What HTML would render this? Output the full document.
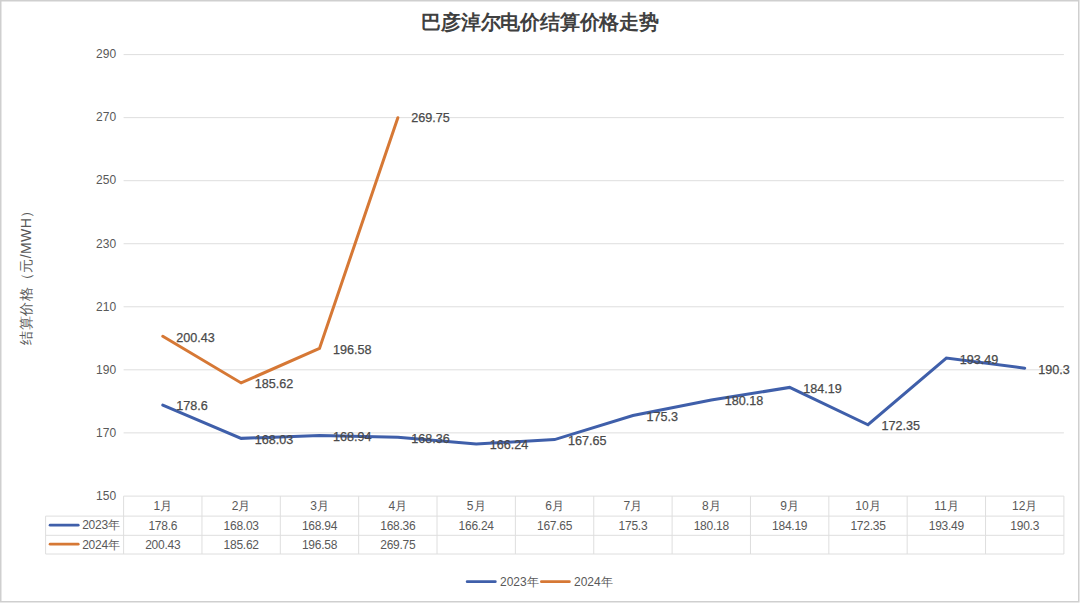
<!DOCTYPE html><html><head><meta charset="utf-8"><style>html,body{margin:0;padding:0;background:#fff;}svg{display:block;}text{font-family:"Liberation Sans",sans-serif;}</style></head><body>
<svg width="1080" height="603" viewBox="0 0 1080 603">
<rect x="0" y="0" width="1080" height="603" fill="#fff"/>
<rect x="0.75" y="0.75" width="1078" height="601" fill="none" stroke="#CFCFCF" stroke-width="1.5"/>
<text x="540" y="29.3" text-anchor="middle" font-size="19.5" letter-spacing="-0.2" font-weight="bold" fill="#404040" style="font-family:'Liberation Serif',serif">巴彦淖尔电价结算价格走势</text>
<text x="116.1" y="499.70" text-anchor="end" font-size="12" fill="#595959">150</text>
<line x1="123.6" y1="432.86" x2="1063.9" y2="432.86" stroke="#DEDEDE" stroke-width="1"/>
<text x="116.1" y="436.66" text-anchor="end" font-size="12" fill="#595959">170</text>
<line x1="123.6" y1="369.81" x2="1063.9" y2="369.81" stroke="#DEDEDE" stroke-width="1"/>
<text x="116.1" y="373.61" text-anchor="end" font-size="12" fill="#595959">190</text>
<line x1="123.6" y1="306.77" x2="1063.9" y2="306.77" stroke="#DEDEDE" stroke-width="1"/>
<text x="116.1" y="310.57" text-anchor="end" font-size="12" fill="#595959">210</text>
<line x1="123.6" y1="243.73" x2="1063.9" y2="243.73" stroke="#DEDEDE" stroke-width="1"/>
<text x="116.1" y="247.53" text-anchor="end" font-size="12" fill="#595959">230</text>
<line x1="123.6" y1="180.69" x2="1063.9" y2="180.69" stroke="#DEDEDE" stroke-width="1"/>
<text x="116.1" y="184.49" text-anchor="end" font-size="12" fill="#595959">250</text>
<line x1="123.6" y1="117.64" x2="1063.9" y2="117.64" stroke="#DEDEDE" stroke-width="1"/>
<text x="116.1" y="121.44" text-anchor="end" font-size="12" fill="#595959">270</text>
<line x1="123.6" y1="54.60" x2="1063.9" y2="54.60" stroke="#DEDEDE" stroke-width="1"/>
<text x="116.1" y="58.40" text-anchor="end" font-size="12" fill="#595959">290</text>
<text x="0" y="0" transform="translate(31,274) rotate(-90)" text-anchor="middle" font-size="14" letter-spacing="0.4" fill="#595959">结算价格（元/MWH）</text>
<g stroke="#DEDEDE" stroke-width="1" fill="none">
<line x1="123.6" y1="496.1" x2="1063.9" y2="496.1"/>
<line x1="45.6" y1="516.1" x2="1063.9" y2="516.1"/>
<line x1="45.6" y1="535.3" x2="1063.9" y2="535.3"/>
<line x1="45.6" y1="554.0" x2="1063.9" y2="554.0"/>
<line x1="45.6" y1="516.1" x2="45.6" y2="554.0"/>
<line x1="123.60" y1="496.1" x2="123.60" y2="554.0"/>
<line x1="201.96" y1="496.1" x2="201.96" y2="554.0"/>
<line x1="280.32" y1="496.1" x2="280.32" y2="554.0"/>
<line x1="358.67" y1="496.1" x2="358.67" y2="554.0"/>
<line x1="437.03" y1="496.1" x2="437.03" y2="554.0"/>
<line x1="515.39" y1="496.1" x2="515.39" y2="554.0"/>
<line x1="593.75" y1="496.1" x2="593.75" y2="554.0"/>
<line x1="672.11" y1="496.1" x2="672.11" y2="554.0"/>
<line x1="750.47" y1="496.1" x2="750.47" y2="554.0"/>
<line x1="828.83" y1="496.1" x2="828.83" y2="554.0"/>
<line x1="907.18" y1="496.1" x2="907.18" y2="554.0"/>
<line x1="985.54" y1="496.1" x2="985.54" y2="554.0"/>
<line x1="1063.90" y1="496.1" x2="1063.90" y2="554.0"/>
</g>
<text x="162.78" y="510.10" text-anchor="middle" font-size="12" fill="#595959">1月</text>
<text x="162.78" y="529.70" text-anchor="middle" font-size="12" letter-spacing="-0.25" fill="#595959">178.6</text>
<text x="162.78" y="548.65" text-anchor="middle" font-size="12" letter-spacing="-0.25" fill="#595959">200.43</text>
<text x="241.14" y="510.10" text-anchor="middle" font-size="12" fill="#595959">2月</text>
<text x="241.14" y="529.70" text-anchor="middle" font-size="12" letter-spacing="-0.25" fill="#595959">168.03</text>
<text x="241.14" y="548.65" text-anchor="middle" font-size="12" letter-spacing="-0.25" fill="#595959">185.62</text>
<text x="319.50" y="510.10" text-anchor="middle" font-size="12" fill="#595959">3月</text>
<text x="319.50" y="529.70" text-anchor="middle" font-size="12" letter-spacing="-0.25" fill="#595959">168.94</text>
<text x="319.50" y="548.65" text-anchor="middle" font-size="12" letter-spacing="-0.25" fill="#595959">196.58</text>
<text x="397.85" y="510.10" text-anchor="middle" font-size="12" fill="#595959">4月</text>
<text x="397.85" y="529.70" text-anchor="middle" font-size="12" letter-spacing="-0.25" fill="#595959">168.36</text>
<text x="397.85" y="548.65" text-anchor="middle" font-size="12" letter-spacing="-0.25" fill="#595959">269.75</text>
<text x="476.21" y="510.10" text-anchor="middle" font-size="12" fill="#595959">5月</text>
<text x="476.21" y="529.70" text-anchor="middle" font-size="12" letter-spacing="-0.25" fill="#595959">166.24</text>
<text x="554.57" y="510.10" text-anchor="middle" font-size="12" fill="#595959">6月</text>
<text x="554.57" y="529.70" text-anchor="middle" font-size="12" letter-spacing="-0.25" fill="#595959">167.65</text>
<text x="632.93" y="510.10" text-anchor="middle" font-size="12" fill="#595959">7月</text>
<text x="632.93" y="529.70" text-anchor="middle" font-size="12" letter-spacing="-0.25" fill="#595959">175.3</text>
<text x="711.29" y="510.10" text-anchor="middle" font-size="12" fill="#595959">8月</text>
<text x="711.29" y="529.70" text-anchor="middle" font-size="12" letter-spacing="-0.25" fill="#595959">180.18</text>
<text x="789.65" y="510.10" text-anchor="middle" font-size="12" fill="#595959">9月</text>
<text x="789.65" y="529.70" text-anchor="middle" font-size="12" letter-spacing="-0.25" fill="#595959">184.19</text>
<text x="868.00" y="510.10" text-anchor="middle" font-size="12" fill="#595959">10月</text>
<text x="868.00" y="529.70" text-anchor="middle" font-size="12" letter-spacing="-0.25" fill="#595959">172.35</text>
<text x="946.36" y="510.10" text-anchor="middle" font-size="12" fill="#595959">11月</text>
<text x="946.36" y="529.70" text-anchor="middle" font-size="12" letter-spacing="-0.25" fill="#595959">193.49</text>
<text x="1024.72" y="510.10" text-anchor="middle" font-size="12" fill="#595959">12月</text>
<text x="1024.72" y="529.70" text-anchor="middle" font-size="12" letter-spacing="-0.25" fill="#595959">190.3</text>
<line x1="50.1" y1="525.2" x2="78.2" y2="525.2" stroke="#3F5FAA" stroke-width="2.8" stroke-linecap="round"/>
<line x1="50.1" y1="544.2" x2="78.2" y2="544.2" stroke="#D67835" stroke-width="2.8" stroke-linecap="round"/>
<text x="119.6" y="529.40" text-anchor="end" font-size="12" letter-spacing="-0.25" fill="#595959">2023年</text>
<text x="119.6" y="548.50" text-anchor="end" font-size="12" letter-spacing="-0.25" fill="#595959">2024年</text>
<polyline points="162.78,405.05 241.14,438.37 319.50,435.50 397.85,437.33 476.21,444.01 554.57,439.56 632.93,415.45 711.29,400.07 789.65,387.43 868.00,424.75 946.36,358.11 1024.72,368.17" fill="none" stroke="#3F5FAA" stroke-width="3" stroke-linejoin="miter" stroke-linecap="round"/>
<polyline points="162.78,336.24 241.14,382.92 319.50,348.37 397.85,117.73" fill="none" stroke="#D67835" stroke-width="3" stroke-linejoin="miter" stroke-linecap="round"/>
<text x="176.28" y="410.45" font-size="12.6" fill="#4A4A4A" stroke="#4A4A4A" stroke-width="0.25">178.6</text>
<text x="254.64" y="443.77" font-size="12.6" fill="#4A4A4A" stroke="#4A4A4A" stroke-width="0.25">168.03</text>
<text x="333.00" y="440.90" font-size="12.6" fill="#4A4A4A" stroke="#4A4A4A" stroke-width="0.25">168.94</text>
<text x="411.35" y="442.73" font-size="12.6" fill="#4A4A4A" stroke="#4A4A4A" stroke-width="0.25">168.36</text>
<text x="489.71" y="449.41" font-size="12.6" fill="#4A4A4A" stroke="#4A4A4A" stroke-width="0.25">166.24</text>
<text x="568.07" y="444.96" font-size="12.6" fill="#4A4A4A" stroke="#4A4A4A" stroke-width="0.25">167.65</text>
<text x="646.43" y="420.85" font-size="12.6" fill="#4A4A4A" stroke="#4A4A4A" stroke-width="0.25">175.3</text>
<text x="724.79" y="405.47" font-size="12.6" fill="#4A4A4A" stroke="#4A4A4A" stroke-width="0.25">180.18</text>
<text x="803.15" y="392.83" font-size="12.6" fill="#4A4A4A" stroke="#4A4A4A" stroke-width="0.25">184.19</text>
<text x="881.50" y="430.15" font-size="12.6" fill="#4A4A4A" stroke="#4A4A4A" stroke-width="0.25">172.35</text>
<text x="959.86" y="363.51" font-size="12.6" fill="#4A4A4A" stroke="#4A4A4A" stroke-width="0.25">193.49</text>
<text x="1038.22" y="373.57" font-size="12.6" fill="#4A4A4A" stroke="#4A4A4A" stroke-width="0.25">190.3</text>
<text x="176.28" y="341.64" font-size="12.6" fill="#4A4A4A" stroke="#4A4A4A" stroke-width="0.25">200.43</text>
<text x="254.64" y="388.32" font-size="12.6" fill="#4A4A4A" stroke="#4A4A4A" stroke-width="0.25">185.62</text>
<text x="333.00" y="353.77" font-size="12.6" fill="#4A4A4A" stroke="#4A4A4A" stroke-width="0.25">196.58</text>
<text x="411.35" y="122.13" font-size="12.6" fill="#4A4A4A" stroke="#4A4A4A" stroke-width="0.25">269.75</text>
<line x1="467.2" y1="581.7" x2="495.3" y2="581.7" stroke="#3F5FAA" stroke-width="2.8" stroke-linecap="round"/>
<text x="500" y="585.70" font-size="12" fill="#595959">2023年</text>
<line x1="541.4" y1="581.7" x2="569.4" y2="581.7" stroke="#D67835" stroke-width="2.8" stroke-linecap="round"/>
<text x="574" y="585.70" font-size="12" fill="#595959">2024年</text>
</svg></body></html>
